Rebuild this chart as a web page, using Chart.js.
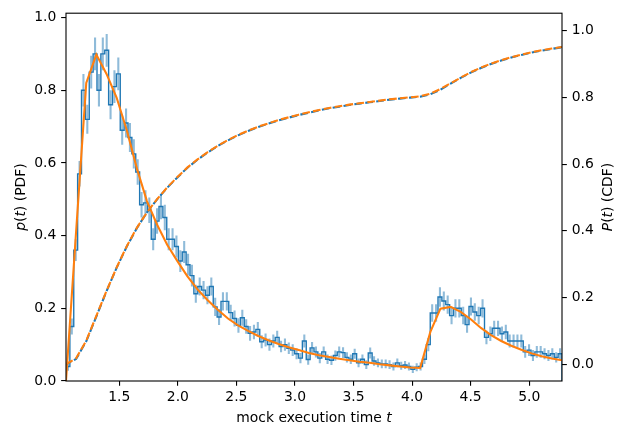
<!DOCTYPE html>
<html>
<head>
<meta charset="utf-8">
<script src="https://cdn.jsdelivr.net/npm/chart.js"></script>
<style>
  body { margin: 0; background: #fff; }
  canvas { display: block; }
</style>
</head>
<body>
<canvas id="chart" width="624" height="435"></canvas>
<script>
// histogram of mock execution times (PDF), 128 bins
const binStart = 1.045;
const binEnd = 5.28;
const histPdf = [
  0.04, 0.15, 0.36, 0.57, 0.80, 0.72, 0.85, 0.90, 0.80, 0.90,
  0.91, 0.76, 0.81, 0.845, 0.69, 0.71, 0.67, 0.625, 0.575, 0.485,
  0.49, 0.47, 0.39, 0.44, 0.48, 0.45, 0.39, 0.39, 0.37, 0.33,
  0.355, 0.32, 0.29, 0.24, 0.26, 0.25, 0.236, 0.26, 0.204, 0.176,
  0.219, 0.219, 0.188, 0.172, 0.153, 0.174, 0.15, 0.131, 0.135, 0.142,
  0.108, 0.113, 0.10, 0.11, 0.12, 0.095, 0.10, 0.09, 0.085, 0.075,
  0.063, 0.11, 0.059, 0.091, 0.08, 0.063, 0.08, 0.06, 0.057, 0.07,
  0.08, 0.078, 0.065, 0.06, 0.075, 0.05, 0.06, 0.045, 0.077, 0.055,
  0.05, 0.047, 0.047, 0.045, 0.04, 0.05, 0.042, 0.044, 0.04, 0.032,
  0.038, 0.04, 0.06, 0.10, 0.187, 0.187, 0.231, 0.22, 0.21, 0.18,
  0.20, 0.20, 0.18, 0.155, 0.205, 0.19, 0.18, 0.20, 0.12, 0.13,
  0.145, 0.145, 0.13, 0.135, 0.11, 0.11, 0.11, 0.11, 0.08, 0.085,
  0.07, 0.08, 0.08, 0.075, 0.07, 0.075, 0.065, 0.075
];
const histErr = [
  0.012, 0.022, 0.03, 0.035, 0.045, 0.04, 0.045, 0.045, 0.045, 0.045,
  0.045, 0.04, 0.045, 0.045, 0.04, 0.04, 0.04, 0.04, 0.035, 0.035,
  0.035, 0.035, 0.03, 0.035, 0.035, 0.035, 0.03, 0.03, 0.03, 0.03,
  0.03, 0.03, 0.03, 0.025, 0.025, 0.025, 0.025, 0.025, 0.025, 0.022,
  0.025, 0.025, 0.022, 0.022, 0.02, 0.022, 0.02, 0.02, 0.02, 0.02,
  0.018, 0.018, 0.017, 0.018, 0.018, 0.016, 0.017, 0.016, 0.016, 0.015,
  0.014, 0.018, 0.014, 0.016, 0.015, 0.014, 0.015, 0.013, 0.013, 0.014,
  0.015, 0.015, 0.014, 0.013, 0.014, 0.012, 0.013, 0.012, 0.015, 0.013,
  0.012, 0.012, 0.012, 0.012, 0.011, 0.012, 0.011, 0.011, 0.011, 0.01,
  0.011, 0.011, 0.013, 0.018, 0.024, 0.024, 0.027, 0.026, 0.025, 0.024,
  0.025, 0.025, 0.024, 0.022, 0.025, 0.024, 0.024, 0.025, 0.019, 0.02,
  0.021, 0.021, 0.02, 0.02, 0.018, 0.018, 0.018, 0.018, 0.016, 0.016,
  0.015, 0.016, 0.016, 0.015, 0.015, 0.015, 0.014, 0.015
];

// fitted model, sampled on 50 points
const fitT = [
  1.045, 1.131, 1.218, 1.304, 1.391, 1.477, 1.564, 1.650, 1.736, 1.823,
  1.909, 1.996, 2.082, 2.168, 2.255, 2.341, 2.428, 2.514, 2.600, 2.687,
  2.773, 2.860, 2.946, 3.032, 3.119, 3.205, 3.292, 3.378, 3.464, 3.551,
  3.637, 3.724, 3.810, 3.896, 3.983, 4.069, 4.156, 4.242, 4.329, 4.415,
  4.501, 4.588, 4.674, 4.761, 4.847, 4.933, 5.020, 5.106, 5.193, 5.280
];
const fitPdf = [
  0, 0.41, 0.82, 0.898, 0.845, 0.78, 0.69, 0.585, 0.495, 0.43,
  0.375, 0.33, 0.288, 0.252, 0.222, 0.196, 0.172, 0.153, 0.138, 0.124,
  0.112, 0.102, 0.093, 0.085, 0.077, 0.071, 0.066, 0.061, 0.057, 0.053,
  0.050, 0.046, 0.043, 0.040, 0.037, 0.036, 0.135, 0.199, 0.204, 0.19,
  0.17, 0.146, 0.126, 0.110, 0.097, 0.086, 0.076, 0.068, 0.062, 0.057
];
const fitCdf = [
  0.000, 0.018, 0.071, 0.145, 0.220, 0.290, 0.354, 0.409, 0.455, 0.495,
  0.530, 0.561, 0.590, 0.614, 0.636, 0.655, 0.672, 0.687, 0.700, 0.712,
  0.722, 0.732, 0.740, 0.748, 0.755, 0.762, 0.768, 0.773, 0.778, 0.782,
  0.786, 0.790, 0.794, 0.797, 0.800, 0.803, 0.811, 0.825, 0.842, 0.859,
  0.875, 0.889, 0.901, 0.911, 0.920, 0.928, 0.935, 0.941, 0.946, 0.951
];
// empirical CDF of the samples
const dataCdf = [
  0.000, 0.016, 0.069, 0.143, 0.219, 0.289, 0.353, 0.408, 0.455, 0.494,
  0.529, 0.560, 0.589, 0.613, 0.635, 0.654, 0.671, 0.686, 0.699, 0.711,
  0.721, 0.731, 0.739, 0.747, 0.754, 0.761, 0.767, 0.772, 0.777, 0.781,
  0.785, 0.789, 0.793, 0.796, 0.799, 0.802, 0.809, 0.823, 0.841, 0.858,
  0.874, 0.888, 0.900, 0.910, 0.919, 0.927, 0.934, 0.940, 0.945, 0.950
];

const xTicks = [1.5, 2.0, 2.5, 3.0, 3.5, 4.0, 4.5, 5.0];
const pdfTicks = [0, 0.2, 0.4, 0.6, 0.8, 1.0];
const cdfTicks = [0, 0.2, 0.4, 0.6, 0.8, 1.0];

const C0 = "#1f77b4";
const C1 = "#ff7f0e";
const FONT = "DejaVu Sans";
const FS = 13.9;

// step outline + error bars from the bins
const binW = (binEnd - binStart) / histPdf.length;
const stepPts = [{ x: binStart, y: 0 }];
const errPts = [];
histPdf.forEach((v, i) => {
    stepPts.push({ x: binStart + i * binW, y: v });
    const c = binStart + (i + 0.5) * binW;
    errPts.push({ x: c, y: v - histErr[i] }, { x: c, y: v + histErr[i] }, { x: c, y: null });
});
stepPts.push({ x: binEnd, y: histPdf[histPdf.length - 1] });
stepPts.push({ x: binEnd, y: 0 });

const pts = (xs, ys) => xs.map((x, i) => ({ x, y: ys[i] }));

// matplotlib like frame and axis labels (with italic math parts)
const drawParts = (ctx, parts, x, y, rot) => {
    ctx.save();
    ctx.translate(x, y);
    if (rot) ctx.rotate(-Math.PI / 2);
    ctx.fillStyle = "#000";
    ctx.textBaseline = "alphabetic";
    let total = 0;
    parts.forEach(p => {
        ctx.font = (p[1] ? "italic " : "") + FS + "px '" + FONT + "'";
        total += ctx.measureText(p[0]).width;
    });
    let cx = -total / 2;
    parts.forEach(p => {
        ctx.font = (p[1] ? "italic " : "") + FS + "px '" + FONT + "'";
        ctx.fillText(p[0], cx, 0);
        cx += ctx.measureText(p[0]).width;
    });
    ctx.restore();
};

const framePlugin = {
    id: "frame",
    afterDatasetsDraw(chart) {
        const { ctx, chartArea: a } = chart;
        ctx.save();
        ctx.strokeStyle = "#000";
        ctx.lineWidth = 1.1;
        ctx.strokeRect(a.left, a.top, a.right - a.left, a.bottom - a.top);
        ctx.restore();
    },
    afterDraw(chart) {
        const { ctx, chartArea: a } = chart;
        const midY = (a.top + a.bottom) / 2;
        drawParts(ctx, [["mock execution time ", false], ["t", true]], (a.left + a.right) / 2, a.bottom + 41, false);
        drawParts(ctx, [["p", true], ["(", false], ["t", true], [") (PDF)", false]], a.left - 41, midY, true);
        drawParts(ctx, [["P", true], ["(", false], ["t", true], [") (CDF)", false]], a.right + 50, midY, true);
    }
};

const setTicks = list => scale => { scale.ticks = list.map(v => ({ value: v })); };
const tickFont = { family: FONT, size: FS };
const gridOpts = { drawOnChartArea: false, drawTicks: true, tickLength: 4.86, color: "#000", lineWidth: 1.1 };

new Chart(document.getElementById("chart"), {
    type: "line",
    data: {
        datasets: [
            {
                data: pts(fitT, fitCdf), yAxisID: "y2",
                borderColor: C1, borderWidth: 2.08, borderDash: [7.7, 3.3]
            },
            {
                data: pts(fitT, dataCdf), yAxisID: "y2",
                borderColor: C0, borderWidth: 2.08, borderDash: [7.7, 3.3], borderDashOffset: 2
            },
            {
                data: pts(fitT, fitPdf), yAxisID: "y",
                borderColor: C1, borderWidth: 2.08
            },
            {
                data: stepPts, yAxisID: "y", stepped: true,
                borderColor: C0, borderWidth: 1.39
            },
            {
                data: errPts, yAxisID: "y", spanGaps: false,
                borderColor: "rgba(31,119,180,0.5)", borderWidth: 2.08
            }
        ]
    },
    options: {
        responsive: false,
        devicePixelRatio: 1,
        animation: false,
        events: [],
        layout: { padding: { top: 12, left: 0, right: 0, bottom: 0 } },
        elements: { point: { radius: 0 }, line: { tension: 0, borderCapStyle: "butt" } },
        plugins: { legend: { display: false }, tooltip: { enabled: false } },
        scales: {
            x: {
                type: "linear", min: binStart, max: binEnd,
                afterBuildTicks: setTicks(xTicks),
                afterFit: s => { s.height = 54; },
                border: { display: false },
                grid: gridOpts,
                ticks: { font: tickFont, color: "#000", padding: 3, maxRotation: 0, callback: v => v.toFixed(1) }
            },
            y: {
                type: "linear", position: "left", min: 0, max: 1.012,
                afterBuildTicks: setTicks(pdfTicks),
                afterFit: s => { s.width = 66; },
                border: { display: false },
                grid: gridOpts,
                ticks: { font: tickFont, color: "#000", padding: 4.86, callback: v => v.toFixed(1) }
            },
            y2: {
                type: "linear", position: "right", min: -0.05, max: 1.052,
                afterBuildTicks: setTicks(cdfTicks),
                afterFit: s => { s.width = 62; },
                border: { display: false },
                grid: gridOpts,
                ticks: { font: tickFont, color: "#000", padding: 4.86, callback: v => v.toFixed(1) }
            }
        }
    },
    plugins: [framePlugin]
});
</script>
</body>
</html>
